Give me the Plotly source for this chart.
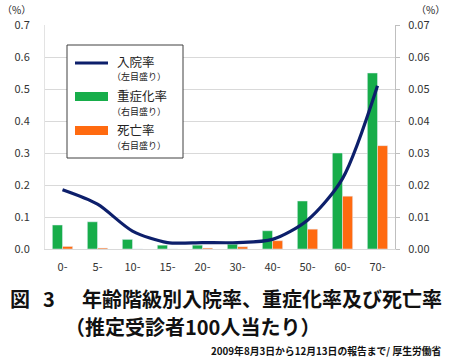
import plotly.graph_objects as go

categories = ["0-", "5-", "10-", "15-", "20-", "30-", "40-", "50-", "60-", "70-"]
hosp_rate = [0.185, 0.14, 0.056, 0.02, 0.02, 0.02, 0.03, 0.09, 0.22, 0.51]      # 入院率 (left axis)
severe_rate = [0.0075, 0.0085, 0.003, 0.0012, 0.0012, 0.0015, 0.0057, 0.015, 0.030, 0.055]  # 重症化率 (right)
death_rate = [0.0008, 0.0003, 0.0, 0.0, 0.0003, 0.0007, 0.0026, 0.0062, 0.0165, 0.0323]      # 死亡率 (right)
left_ticks = [0.0, 0.1, 0.2, 0.3, 0.4, 0.5, 0.6, 0.7]
right_ticks = [0.0, 0.01, 0.02, 0.03, 0.04, 0.05, 0.06, 0.07]

GREEN = "#17ad4a"
ORANGE = "#ff6a10"
NAVY = "#0d1f6b"
FONT = "Noto Sans CJK JP"

fig = go.Figure()
fig.add_trace(go.Bar(x=categories, y=severe_rate, marker_color=GREEN, name="重症化率",
                     offsetgroup="a", yaxis="y"))
fig.add_trace(go.Bar(x=categories, y=death_rate, marker_color=ORANGE, name="死亡率",
                     offsetgroup="b", yaxis="y"))
fig.add_trace(go.Scatter(x=categories, y=hosp_rate, mode="lines", name="入院率",
                         line=dict(color=NAVY, width=3.2, shape="spline", smoothing=0.8),
                         yaxis="y2"))

fig.update_layout(
    width=450, height=361,
    margin=dict(l=45, r=55, t=25, b=112),
    plot_bgcolor="white", paper_bgcolor="white",
    showlegend=False,
    barmode="group", bargap=0.42, bargroupgap=0.0,
    font=dict(family=FONT, color="#333333", size=11),
    xaxis=dict(showgrid=False, showline=True, linecolor="#d9d9d9", ticks="",
               tickfont=dict(size=11, color="#333333"), ticklabelstandoff=8),
    yaxis=dict(side="right", range=[0, 0.07], tickvals=right_ticks,
               ticktext=[f"{v:.2f}" for v in right_ticks],
               showgrid=True, gridcolor="#d9d9d9", gridwidth=1,
               showline=True, linecolor="#bfbfbf", ticks="outside", ticklen=4, tickcolor="#bfbfbf",
               ticklabelstandoff=6,
               zeroline=False, tickfont=dict(size=11, color="#333333")),
    yaxis2=dict(side="left", overlaying="y", range=[0, 0.7], tickvals=left_ticks,
                ticktext=[f"{v:.1f}" for v in left_ticks],
                showgrid=False, showline=True, linecolor="#e3e3e3", ticks="",
                ticklabelstandoff=12,
                zeroline=False, tickfont=dict(size=11, color="#333333")),
)

def px2x(px):
    return (px - 45) / 350

def px2y(py):
    return (249 - py) / 224

shapes = [
    dict(type="rect", xref="paper", yref="paper", x0=px2x(67), x1=px2x(183), y0=px2y(158), y1=px2y(45),
         line=dict(color="#404040", width=1), fillcolor="white", layer="above"),
    dict(type="line", xref="paper", yref="paper", x0=px2x(75), x1=px2x(108), y0=px2y(63), y1=px2y(63),
         line=dict(color=NAVY, width=3), layer="above"),
    dict(type="rect", xref="paper", yref="paper", x0=px2x(75), x1=px2x(108), y0=px2y(101), y1=px2y(92),
         line=dict(width=0), fillcolor=GREEN, layer="above"),
    dict(type="rect", xref="paper", yref="paper", x0=px2x(75), x1=px2x(108), y0=px2y(135), y1=px2y(126),
         line=dict(width=0), fillcolor=ORANGE, layer="above"),
]
fig.update_layout(shapes=shapes)

ann = []
def add_text(text, px, py, size, xanchor="left", bold=False, color="#222222"):
    if bold:
        text = f"<b>{text}</b>"
    ann.append(dict(text=text, x=px2x(px), y=px2y(py), xref="paper", yref="paper",
                    xanchor=xanchor, yanchor="middle", showarrow=False,
                    font=dict(family=FONT, size=size, color=color)))

add_text("入院率", 115, 61, 12.5)
add_text("（左目盛り）", 110, 77, 9)
add_text("重症化率", 115, 95, 12.5)
add_text("（右目盛り）", 110, 111, 9)
add_text("死亡率", 115, 129, 12.5)
add_text("（右目盛り）", 110, 145, 9)

add_text("（%）", 0, 10, 10)
add_text("（%）", 414, 10, 10)

add_text("図", 8, 298, 20, bold=True, color="#111111")
add_text("3", 41, 298, 20, bold=True, color="#111111")
add_text("年齢階級別入院率、重症化率及び死亡率", 80, 298, 20, bold=True, color="#111111")
add_text("（推定受診者100人当たり）", 63, 326, 20, bold=True, color="#111111")
add_text("2009年8月3日から12月13日の報告まで/ 厚生労働省", 444, 351, 9.8, xanchor="right", bold=True, color="#111111")

fig.update_layout(annotations=ann)
fig.write_html("out.html", config={"displayModeBar": False},
               post_script="document.body.style.margin='0px';")
